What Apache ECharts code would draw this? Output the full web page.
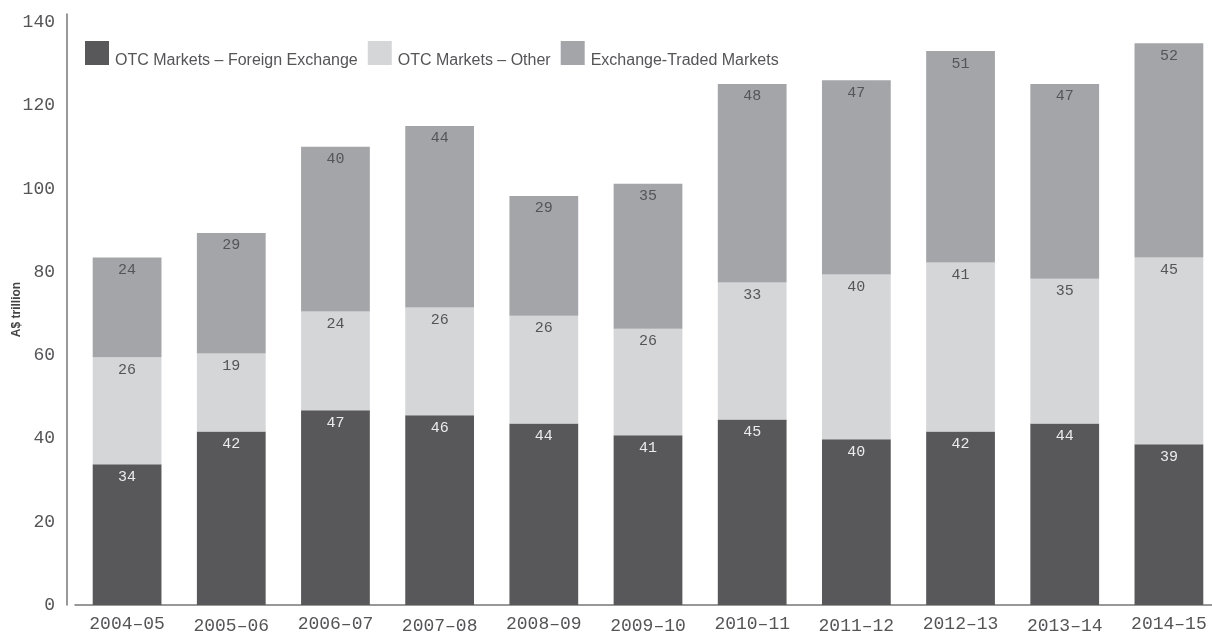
<!DOCTYPE html>
<html><head><meta charset="utf-8">
<script src="https://cdn.jsdelivr.net/npm/echarts@6/dist/echarts.min.js"></script>
<style>html,body{margin:0;padding:0;background:#fff}#c{width:1212px;height:633px}</style>
</head><body><div id="c"></div>
<script>
const categories = ['2004–05','2005–06','2006–07','2007–08','2008–09','2009–10','2010–11','2011–12','2012–13','2013–14','2014–15'];
const otcFx = [33.8,41.7,46.8,45.6,43.6,40.8,44.6,39.8,41.7,43.6,38.6];
const otcOther = [25.7,18.7,23.7,25.9,25.9,25.6,32.9,39.6,40.6,34.8,44.9];
const exchangeTraded = [24.0,29.0,39.6,43.6,28.8,34.8,47.7,46.7,50.8,46.8,51.5];
const seriesNames = ['OTC Markets – Foreign Exchange','OTC Markets – Other','Exchange-Traded Markets'];
const colors = ['#58585a','#d5d6d8','#a3a5a8'];
const labelColors = ['#ececec','#555558','#555558'];

const chart = echarts.init(document.getElementById('c'));
const mono = 'Liberation Mono';
function mk(name, data, i){
  return {name, type:'bar', stack:'t', data, barWidth:'66%',
    itemStyle:{color:colors[i]},
    label:{show:true, position:'insideTop', distance:5, color:labelColors[i],
      fontFamily:mono, fontSize:15, formatter:p=>Math.round(p.value)}};
}
chart.setOption({
  animation:false,
  color:colors,
  grid:{left:75, right:-9, top:14, bottom:28, containLabel:false, outerBoundsMode:'none'},
  legend:{left:80, top:36, itemWidth:24, itemHeight:24, itemGap:10, icon:'rect',
    formatter:n=>'{t|'+n+'}',
    textStyle:{fontFamily:'Liberation Sans', fontSize:16, color:'#555558',
      rich:{t:{fontFamily:'Liberation Sans', fontSize:16, color:'#555558', padding:[16,0,0,1]}}},
    data:seriesNames},
  xAxis:{type:'category', data:categories,
    axisLine:{lineStyle:{color:'#777', width:1.5}}, axisTick:{show:false},
    axisLabel:{interval:0, margin:10, fontFamily:mono, fontSize:18, color:'#555558',
      formatter:(v,i)=> i%2 ? '{b|'+v+'}' : '{a|'+v+'}',
      rich:{a:{fontFamily:mono, fontSize:18, color:'#555558'}, b:{fontFamily:mono, fontSize:18, color:'#555558', padding:[2,0,0,0]}}}},
  yAxis:{type:'value', min:0, max:142, interval:20, offset:8,
    name:'A$ trillion', nameLocation:'middle', nameGap:44, nameMoveOverlap:false,
    nameTextStyle:{fontFamily:'Liberation Sans', fontWeight:'bold', fontSize:12, color:'#444'},
    axisLine:{show:true, lineStyle:{color:'#777', width:1.5}}, axisTick:{show:false},
    splitLine:{show:false},
    axisLabel:{margin:12, fontFamily:mono, fontSize:18, color:'#555558', showMaxLabel:false}},
  series:[mk(seriesNames[0], otcFx, 0), mk(seriesNames[1], otcOther, 1), mk(seriesNames[2], exchangeTraded, 2)]
});
</script></body></html>
